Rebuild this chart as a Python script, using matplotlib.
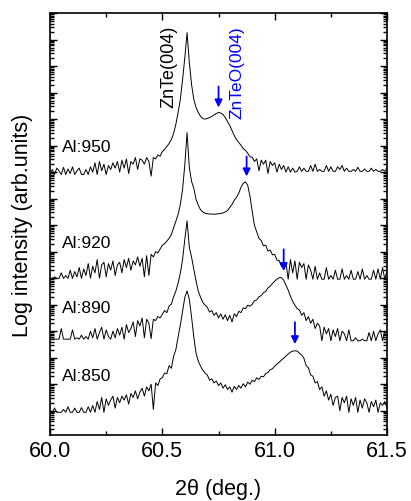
import numpy as np
import matplotlib
matplotlib.use("Agg")
import matplotlib.pyplot as plt
from matplotlib.ticker import LogLocator, MultipleLocator, NullFormatter

plt.rcParams['font.family'] = ['Liberation Sans', 'DejaVu Sans']

# 2theta scan in 0.01 deg steps
two_theta = np.round(np.arange(60.0, 61.5001, 0.01), 2)

# log10 of intensity (curves already offset)
logI_950 = [8.91, 9.10, 8.91, 9.15, 9.05, 8.91, 9.18, 8.91, 9.12, 8.95,
            9.20, 8.91, 9.05, 9.15, 8.91, 8.91, 9.10, 8.91, 9.20, 9.00,
            9.35, 8.91, 9.40, 9.05, 9.30, 8.91, 9.25, 9.10, 9.35, 9.15,
            9.40, 9.00, 9.45, 9.15, 9.50, 8.95, 9.40, 9.30, 9.55, 9.10,
            9.50, 9.45, 9.30, 9.55, 9.40, 8.85, 9.55, 9.50, 9.65, 9.60,
            9.78, 9.86, 9.97, 10.08, 10.23, 10.46, 10.80, 11.25, 11.74, 12.49,
            13.32, 14.26, 13.13, 12.30, 11.74, 11.44, 11.25, 11.10, 11.02, 11.00,
            11.02, 11.06, 11.10, 11.16, 11.21, 11.25, 11.23, 11.17, 11.06, 10.91,
            10.76, 10.57, 10.38, 10.23, 10.12, 10.01, 9.89, 9.82, 9.71, 9.58,
            9.56, 9.40, 9.50, 9.05, 9.45, 9.30, 9.45, 8.95, 9.40, 9.25,
            9.35, 9.00, 9.30, 9.10, 9.25, 9.00, 9.20, 9.00, 9.15, 9.00,
            9.03, 9.20, 9.03, 9.15, 9.03, 9.03, 9.25, 9.03, 9.30, 9.03,
            9.10, 9.03, 9.03, 9.25, 9.03, 9.20, 9.03, 9.03, 9.20, 9.10,
            9.25, 9.03, 9.15, 9.03, 9.03, 9.10, 9.03, 9.18, 9.03, 9.03,
            9.12, 9.03, 9.03, 9.15, 9.03, 9.10, 9.03, 9.03, 9.10, 9.03, 9.15]

logI_920 = [4.99, 4.99, 5.05, 4.99, 4.99, 5.20, 4.99, 5.10, 4.99, 5.30,
            4.99, 5.25, 5.05, 5.40, 4.99, 5.35, 5.10, 5.55, 5.00, 5.45,
            5.20, 5.70, 5.00, 5.50, 5.60, 5.05, 5.55, 5.30, 5.65, 5.10,
            5.50, 5.60, 5.20, 5.70, 5.40, 5.75, 5.30, 5.65, 5.50, 5.80,
            5.45, 5.75, 5.05, 5.85, 5.10, 5.90, 5.80, 6.00, 5.95, 6.10,
            6.24, 6.30, 6.40, 6.50, 6.65, 6.90, 7.15, 7.40, 7.78, 8.35,
            9.29, 10.49, 9.18, 8.65, 8.39, 7.97, 7.75, 7.58, 7.50, 7.45,
            7.43, 7.42, 7.42, 7.41, 7.42, 7.43, 7.44, 7.46, 7.50, 7.55,
            7.67, 7.78, 7.94, 8.05, 8.20, 8.43, 8.58, 8.63, 8.50, 8.09,
            7.52, 6.99, 6.75, 6.50, 6.42, 6.22, 6.25, 6.02, 6.06, 5.88,
            5.90, 5.68, 5.66, 5.45, 5.40, 5.60, 4.96, 5.70, 5.20, 5.65,
            4.96, 5.60, 5.40, 5.55, 4.96, 5.50, 5.30, 4.96, 5.45, 4.96,
            5.20, 4.96, 4.96, 5.40, 4.96, 5.10, 4.96, 5.30, 4.96, 4.96,
            5.35, 4.96, 5.10, 4.96, 5.30, 4.96, 4.96, 5.25, 4.96, 5.35,
            4.96, 5.10, 4.96, 4.96, 5.30, 4.96, 5.35, 4.96, 5.40, 4.96, 5.30]

logI_890 = [2.70, 2.70, 2.70, 2.70, 2.70, 3.10, 2.70, 2.70, 2.70, 2.70,
            3.05, 2.70, 2.75, 2.70, 2.85, 2.70, 2.80, 2.70, 3.00, 2.75,
            3.10, 2.70, 2.95, 3.15, 2.70, 3.05, 2.80, 2.70, 3.00, 2.75,
            3.10, 2.85, 3.15, 2.70, 3.25, 2.95, 3.10, 3.35, 2.80, 3.40,
            3.20, 3.50, 2.75, 3.45, 3.30, 2.72, 3.45, 3.40, 3.55, 3.50,
            3.64, 3.78, 3.70, 3.95, 4.02, 4.30, 4.51, 4.81, 5.19, 5.71,
            6.47, 7.16, 6.17, 5.79, 5.34, 4.89, 4.51, 4.28, 4.09, 3.98,
            3.90, 3.72, 3.78, 3.60, 3.70, 3.50, 3.65, 3.45, 3.62, 3.40,
            3.60, 3.35, 3.66, 3.55, 3.75, 3.70, 3.88, 3.85, 3.98, 3.94,
            4.02, 4.15, 4.18, 4.30, 4.34, 4.45, 4.50, 4.63, 4.70, 4.80,
            4.89, 4.96, 5.02, 5.02, 4.92, 4.73, 4.55, 4.32, 4.13, 3.98,
            3.85, 3.80, 3.60, 3.70, 3.40, 3.55, 3.30, 3.45, 3.10, 3.30,
            3.20, 2.64, 3.15, 2.90, 3.10, 2.64, 3.05, 2.80, 3.10, 2.64,
            3.00, 2.90, 2.64, 3.05, 2.64, 2.64, 2.75, 2.64, 2.64, 2.70,
            2.64, 2.64, 2.95, 2.64, 3.00, 2.64, 2.90, 3.05, 2.64, 3.00, 2.90]

logI_850 = [-0.06, -0.06, 0.10, -0.06, -0.06, -0.06, 0.05, -0.06, 0.15, -0.06,
            -0.06, 0.10, -0.06, -0.06, 0.12, -0.06, -0.06, 0.15, -0.06, 0.20,
            -0.06, 0.35, 0.05, 0.50, -0.06, 0.45, 0.20, 0.40, 0.55, 0.10,
            0.50, 0.30, 0.55, 0.40, 0.60, 0.25, 0.65, 0.50, 0.75, 0.45,
            0.70, 0.85, 0.55, 0.90, 0.75, 1.00, 0.05, 1.05, 0.95, 1.20,
            1.25, 1.42, 1.40, 1.70, 1.60, 2.05, 2.30, 2.78, 3.23, 3.75,
            4.28, 4.52, 4.21, 3.53, 2.78, 2.17, 1.87, 1.68, 1.53, 1.42,
            1.35, 1.15, 1.20, 1.05, 1.12, 0.95, 1.05, 0.85, 0.98, 0.80,
            0.90, 0.70, 0.92, 0.80, 0.95, 0.85, 1.02, 0.90, 1.08, 1.00,
            1.15, 1.10, 1.24, 1.18, 1.30, 1.28, 1.40, 1.44, 1.55, 1.58,
            1.68, 1.76, 1.83, 1.91, 1.98, 2.06, 2.14, 2.21, 2.25, 2.26,
            2.25, 2.17, 2.10, 1.98, 1.70, 1.62, 1.35, 1.30, 1.05, 1.10,
            0.80, 0.90, 0.55, 0.75, 0.40, 0.62, 0.20, 0.50, 0.55, 0.00,
            0.50, 0.30, 0.55, -0.06, 0.45, 0.20, 0.50, -0.06, 0.40, 0.10,
            0.45, 0.30, -0.06, 0.35, 0.15, 0.40, -0.06, 0.30, 0.20, 0.35, 0.10]

samples = ["Al:950", "Al:920", "Al:890", "Al:850"]
curves = [logI_950, logI_920, logI_890, logI_850]
label_logy = [9.97, 6.35, 3.91, 1.31]

# ZnTeO(004) arrows: position, tail and tip (log10 intensity)
arrow_x = [60.75, 60.875, 61.04, 61.09]
arrow_tail = [12.23, 9.59, 6.09, 3.34]
arrow_tip = [11.44, 8.84, 5.27, 2.51]

fig = plt.figure(figsize=(4.11, 5.02), dpi=100)
ax = fig.add_axes([0.1217, 0.1315, 0.82, 0.8405])

for name, logI, ly in zip(samples, curves, label_logy):
    ax.plot(two_theta, 10 ** np.array(logI), color='black', lw=0.7)
    ax.text(60.053, 10 ** ly, name, fontsize=12.5, ha='left', va='center')

for x, t0, t1 in zip(arrow_x, arrow_tail, arrow_tip):
    ax.annotate("", xy=(x, 10 ** t1), xytext=(x, 10 ** t0),
                arrowprops=dict(arrowstyle='-|>', color='blue', lw=1.3,
                                mutation_scale=11, shrinkA=0, shrinkB=0))

ax.text(60.527, 10 ** 11.44, "ZnTe(004)", rotation=90, fontsize=13,
        ha='center', va='bottom')
ax.text(60.831, 10 ** 11.06, "ZnTeO(004)", rotation=90, fontsize=12.5,
        color='blue', ha='center', va='bottom')

ax.set_yscale('log')
ax.set_xlim(60.0, 61.5)
ax.set_ylim(10 ** -0.915, 10 ** 15.0)

ax.xaxis.set_major_locator(MultipleLocator(0.5))
ax.xaxis.set_minor_locator(MultipleLocator(0.25))
ax.xaxis.set_major_formatter(plt.FormatStrFormatter('%.1f'))
ax.yaxis.set_major_locator(LogLocator(base=10, numticks=40))
ax.yaxis.set_minor_locator(LogLocator(base=10, subs=np.arange(2, 10), numticks=40))
ax.yaxis.set_major_formatter(NullFormatter())
ax.yaxis.set_minor_formatter(NullFormatter())

ax.tick_params(which='both', direction='in', top=True, right=True, width=1.0)
ax.tick_params(which='major', length=5, labelsize=15.5)
ax.tick_params(which='minor', length=3)
for s in ax.spines.values():
    s.set_linewidth(1.2)

ax.set_xlabel("2θ (deg.)", fontsize=15.5, labelpad=12)
ax.set_ylabel("Log intensity (arb.units)", fontsize=15.5, labelpad=9)

fig.savefig("out.png", dpi=100)
